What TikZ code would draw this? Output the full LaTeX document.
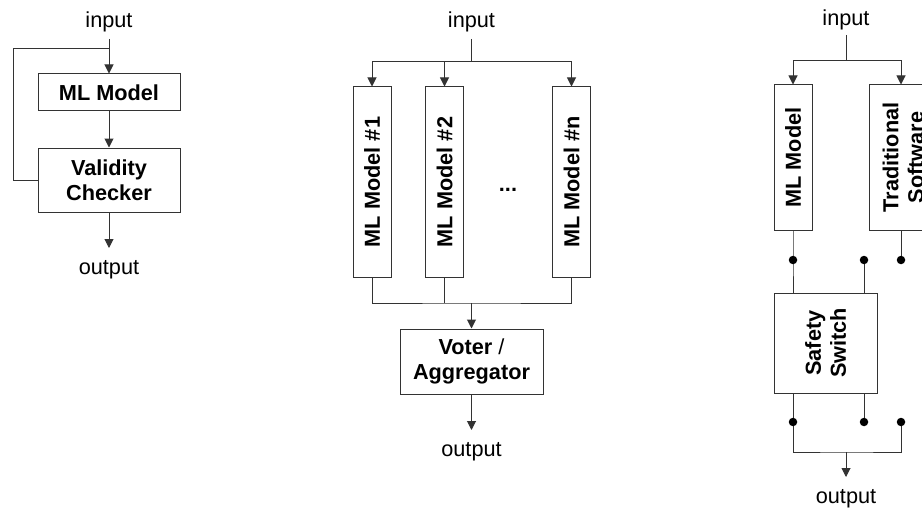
\documentclass[tikz,border=0pt]{standalone}
\usepackage{fontspec}
\setmainfont{Liberation Sans}
\usetikzlibrary{arrows.meta}
\begin{document}
\begin{tikzpicture}[x=1pt,y=-1pt,
  every node/.style={font=\fontsize{21.7pt}{25pt}\selectfont},
  blk/.style={draw=black!80, line width=1pt, fill=white, inner sep=0pt},
  lbl/.style={font=\fontsize{21.7pt}{25pt}\selectfont\bfseries, align=center, inner sep=0pt},
  rlbl/.style={lbl, rotate=90},
  txt/.style={anchor=base, inner sep=0pt},
  wire/.style={draw=black!80, line width=1pt},
  arr/.style={wire, -{Triangle[width=9pt,length=9pt]}},
  dot/.style={circle, fill=black, inner sep=0pt, minimum size=8.5pt}
]
\useasboundingbox (0,0) rectangle (922,519);
\clip (0,0) rectangle (922,519);

% ---------- Diagram 1 ----------
\node[txt] (in1) at (109,28) {input};
\node[blk, minimum width=142pt, minimum height=37pt] (mlm1) at (109,92.5) {};
\node[lbl] (mlm1t) at (mlm1) {ML Model};
\node[blk, minimum width=142pt, minimum height=64pt] (vc) at (109,180) {};
\node[lbl] (vct) at (vc) {Validity\\Checker};
\node[txt] (out1) at (109,274) {output};
\coordinate (j1) at (109,49);
\coordinate (fb) at (13,49);
\draw[arr] ([yshift=-11pt]in1.base) -- (mlm1.north);
\draw[arr] (mlm1.south) -- (vc.north);
\draw[arr] (vc.south) -- ([yshift=26pt]out1.base);
\draw[wire] (vc.west) -| (fb) -- (j1);

% ---------- Diagram 2 ----------
\node[txt] (in2) at (471.5,28) {input};
\node[blk, minimum width=38pt, minimum height=190pt] (m1) at (372,182) {};
\node[rlbl] (m1t) at (m1) {ML Model \#1};
\node[blk, minimum width=38pt, minimum height=190pt] (m2) at (444.5,182) {};
\node[rlbl] (m2t) at (m2) {ML Model \#2};
\node[blk, minimum width=38pt, minimum height=190pt] (mn) at (571.5,182) {};
\node[rlbl] (mnt) at (mn) {ML Model \#n};
\node[txt, font=\fontsize{21.7pt}{25pt}\selectfont\bfseries] (dots) at (508,191) {...};
\node[blk, minimum width=143pt, minimum height=65pt] (vo) at (471.5,361.5) {};
\node[lbl] (vot) at (vo) {Voter \textmd{/}\\Aggregator};
\node[txt] (out2) at (471.5,456) {output};
\coordinate (j2) at (471.5,62);
\coordinate (b2) at (471.5,303);
\draw[wire] ([yshift=-11pt]in2.base) -- (j2);
\draw[arr] (j2) -| (m1.north);
\draw[arr] (j2) -| (mn.north);
\draw[arr] (m2.north |- j2) -- (m2.north);
\draw[wire] (m1.south) |- (b2) -| (mn.south);
\draw[wire] (m2.south) -- (m2.south |- b2);
\draw[arr] (b2) -- (vo.north);
\draw[arr] (vo.south) -- ([yshift=26pt]out2.base);

% ---------- Diagram 3 ----------
\node[txt] (in3) at (846,26) {input};
\node[blk, minimum width=38pt, minimum height=145pt] (ml3) at (793,157.5) {};
\node[rlbl] (ml3t) at (ml3) {ML Model};
\node[blk, minimum width=64pt, minimum height=145pt] (ts) at (901,157.5) {};
\node[rlbl] (tst) at ([xshift=2pt]ts.center) {Traditional\\Software};
\node[blk, minimum width=103pt, minimum height=100pt] (ss) at (825.5,343) {};
\node[rlbl] (sst) at (ss) {Safety\\Switch};
\coordinate (d1) at (793,260);
\coordinate (d2) at (864,260);
\coordinate (d3) at (901,260);
\coordinate (e1) at (793,422);
\coordinate (e2) at (864,422);
\coordinate (e3) at (901,422);
\node[txt] (out3) at (846,503) {output};
\coordinate (j3) at (846,61);
\coordinate (b3) at (846,452);
\draw[wire] ([yshift=-9pt]in3.base) -- (j3);
\draw[arr] (j3) -| (ml3.north);
\draw[arr] (j3) -| (ts.north);
\draw[wire] (ml3.south) -- (d1) -- (d1 |- ss.north);
\draw[wire] (d2) -- (d2 |- ss.north);
\draw[wire] (ts.south) -- (d3);
\draw[wire] (e1 |- ss.south) -- (e1);
\draw[wire] (e2 |- ss.south) -- (e2);
\draw[wire] (e1) |- (b3) -| (e3);
\draw[arr] (b3) -- ([yshift=26pt]out3.base);
\node[dot] (dd1) at (d1) {};
\node[dot] (dd2) at (d2) {};
\node[dot] (dd3) at (d3) {};
\node[dot] (de1) at (e1) {};
\node[dot] (de2) at (e2) {};
\node[dot] (de3) at (e3) {};
\end{tikzpicture}
\end{document}
